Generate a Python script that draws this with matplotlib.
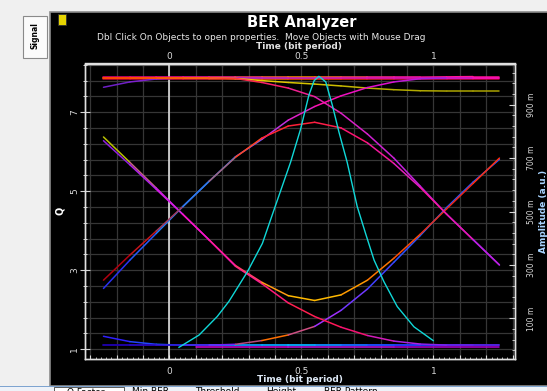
import numpy as np
import matplotlib.pyplot as plt
from matplotlib.collections import LineCollection
from matplotlib.colors import LinearSegmentedColormap
from matplotlib.patches import Rectangle
from matplotlib.ticker import FixedLocator, MultipleLocator, FuncFormatter

W, H = 547, 391

time_grid = [-0.25, -0.15, -0.05, 0.05, 0.15, 0.25, 0.35, 0.45,
             0.55, 0.65, 0.75, 0.85, 0.95, 1.05, 1.15, 1.25]

top_low = [0.997, 0.997, 0.997, 0.997, 0.997, 0.997, 0.997, 0.997,
           0.997, 0.997, 0.997, 0.997, 0.997, 0.997, 0.997, 0.997]
top_high = [1.003, 1.003, 1.003, 1.003, 1.003, 1.003, 1.003, 1.003,
            1.003, 1.003, 1.003, 1.003, 1.003, 1.004, 1.005, 1.005]
rise_tail = [0.965, 0.985, 0.996, 1.0, 1.0, 1.0, 1.0, 1.0,
             1.0, 1.0, 1.0, 1.0, 1.0, 1.0, 1.0, 1.0]
yellow_top = [1.0, 1.0, 1.0, 1.0, 1.0, 0.998, 0.99, 0.983,
              0.977, 0.97, 0.962, 0.956, 0.952, 0.951, 0.951, 0.951]
rise_full = [0.212, 0.318, 0.418, 0.518, 0.613, 0.705, 0.77, 0.842,
             0.893, 0.933, 0.964, 0.985, 0.997, 1.0, 1.0, 1.0]
dome = [0.243, 0.337, 0.427, 0.518, 0.613, 0.703, 0.775, 0.82,
        0.834, 0.813, 0.757, 0.68, 0.59, 0.49, 0.395, 0.3]
late_fall = [1.0, 1.0, 1.0, 1.0, 1.0, 0.998, 0.983, 0.962,
             0.93, 0.868, 0.79, 0.7, 0.595, 0.49, 0.395, 0.3]
fall_full = [0.779, 0.684, 0.588, 0.49, 0.394, 0.295, 0.23, 0.158,
             0.107, 0.067, 0.036, 0.015, 0.004, 0.0, 0.0, 0.0]
cup = [0.765, 0.675, 0.583, 0.49, 0.394, 0.298, 0.235, 0.185,
       0.167, 0.188, 0.243, 0.325, 0.415, 0.51, 0.605, 0.7]
late_rise = [0.0, 0.0, 0.0, 0.0, 0.0, 0.003, 0.017, 0.038,
             0.07, 0.13, 0.21, 0.31, 0.41, 0.515, 0.61, 0.695]
fall_tail = [0.033, 0.013, 0.003, 0.0, 0.0, 0.0, 0.0, 0.0,
             0.0, 0.0, 0.0, 0.0, 0.0, 0.0, 0.0, 0.0]
bottom_flat = [0.0, 0.0, 0.0, 0.0, 0.0, 0.0, 0.0, 0.0,
               0.0, 0.0, 0.0, 0.0, 0.0, 0.0, 0.0, 0.0]
bottom_low_time = [0.1, 0.45, 0.85, 1.25]
bottom_low = [-0.006, -0.006, -0.006, -0.006]

# Q factor versus sampling time (left axis)
q_time = [0.036, 0.112, 0.181, 0.225, 0.295, 0.352, 0.396, 0.459, 0.497,
          0.528, 0.548, 0.566, 0.592, 0.617, 0.642, 0.673, 0.711, 0.743,
          0.775, 0.8125, 0.863, 0.926, 0.999]
q_value = [1.05, 1.36, 1.83, 2.21, 2.96, 3.68, 4.53, 5.74, 6.58,
           7.43, 7.8, 7.91, 7.77, 7.18, 6.5, 5.74, 4.62, 3.93,
           3.26, 2.71, 2.08, 1.57, 1.22]

q_ticks = [1, 3, 5, 7]
amp_ticks = [0.1, 0.3, 0.5, 0.7, 0.9]
time_labels = [0, 0.5, 1]
tab_names = ["Q Factor", "Min BER", "Threshold", "Height", "BER Pattern"]
tab_x = [86, 150, 217, 281, 351]


def fpos(x, y):
    return x / W, 1 - y / H


def trace(axis, t, v, colors, lw=1.1, z=3):
    pts = np.column_stack([t, v])
    segs = np.stack([pts[:-1], pts[1:]], axis=1)
    cmap = LinearSegmentedColormap.from_list("tr", colors)
    lc = LineCollection(segs, colors=cmap(np.linspace(0, 1, len(segs))),
                        linewidths=lw, zorder=z, capstyle="round")
    axis.add_collection(lc)


def box(x, y, w, h, **kw):
    # rectangle in pixel coords (top-left corner), behind the axes
    fig.add_artist(Rectangle(fpos(x, y + h), w / W, h / H, transform=fig.transFigure,
                             zorder=-5, **kw))


fig = plt.figure(figsize=(W / 100, H / 100), dpi=100)
fig.patch.set_facecolor("#f0f0f0")

# black instrument panel
box(50, 12, 500, 374, facecolor="black", edgecolor="#8c8c8c", linewidth=1.2)
# "Signal" side tab
box(23, 16, 24, 42, facecolor="#fbfbfb", edgecolor="#8a8a8a", linewidth=0.8)
fig.text(*fpos(35, 36), "Signal", rotation=90, ha="center", va="center",
         fontsize=5.5, weight="bold", color="black")
# small yellow icon
box(58, 14, 8, 11, facecolor="#e6d400", edgecolor="#303030", linewidth=0.6)

# bottom tab strip
box(0, 386, W, 5.5, facecolor="#eef2f8", edgecolor="none")
box(0, 386, W, 1.2, facecolor="#7ea4d0", edgecolor="none")
box(54, 387, 70, 4.5, facecolor="white", edgecolor="#404040", linewidth=0.6)
for name, x in zip(tab_names, tab_x):
    fig.text(*fpos(x, 387.5), name, ha="center", va="top", fontsize=6.5, color="black")

fig.text(*fpos(302, 22), "BER Analyzer", ha="center", va="center",
         fontsize=10.5, weight="bold", color="white")
fig.text(*fpos(261, 37), "Dbl Click On Objects to open properties.  Move Objects with Mouse Drag",
         ha="center", va="center", fontsize=6.5, color="#e8e8e8")
fig.text(*fpos(299, 46.5), "Time (bit period)", ha="center", va="center",
         fontsize=6.5, weight="bold", color="#e0e0e0")
fig.text(*fpos(300, 380), "Time (bit period)", ha="center", va="center",
         fontsize=6.5, weight="bold", color="#dde8f5")
fig.text(*fpos(60, 211), "Q", rotation=90, ha="center", va="center",
         fontsize=7, weight="bold", color="white")
fig.text(*fpos(543, 211), "Amplitude (a.u.)", rotation=90, ha="center", va="center",
         fontsize=6.5, weight="bold", color="#a8d4ff")

# plot area
x0, x1, y0, y1 = 85, 515, 63.5, 359
ax = fig.add_axes([x0 / W, 1 - y1 / H, (x1 - x0) / W, (y1 - y0) / H])
ax.set_facecolor("black")
ax.set_xlim(-0.32, 1.309)
ax.set_ylim(0.754, 8.235)

ax.xaxis.set_major_locator(FixedLocator(np.round(np.arange(-0.3, 1.31, 0.1), 2)))
ax.xaxis.set_minor_locator(MultipleLocator(0.02))
ax.xaxis.set_major_formatter(FuncFormatter(
    lambda v, p: (f"{v:g}" if any(abs(v - s) < 1e-6 for s in time_labels) else "")))
ax.yaxis.set_major_locator(FixedLocator(q_ticks))
ax.yaxis.set_minor_locator(FixedLocator(np.arange(0.6, 8.3, 0.4)))
ax.grid(which="major", axis="x", color="#363636", linewidth=0.9)
ax.grid(which="both", axis="y", color="#363636", linewidth=0.9)
ax.axvline(0, color="#f0f0f0", linewidth=1.1, zorder=2)

ax.tick_params(axis="x", which="major", direction="in", length=3, width=0.8,
               colors="#d8d8d8", labelsize=6.5, pad=5.5)
ax.tick_params(axis="x", which="minor", direction="in", length=1.2, width=0.6, colors="#d8d8d8")
ax.tick_params(axis="y", which="major", direction="inout", length=7, width=0.8,
               colors="#d8d8d8", labelsize=6.5, pad=0.5, labelrotation=90)
ax.tick_params(axis="y", which="minor", direction="inout", length=3.5, width=0.7, colors="#d8d8d8")
for lab in ax.get_yticklabels():
    lab.set_va("center")

top = ax.secondary_xaxis("top")
top.xaxis.set_major_locator(FixedLocator(np.round(np.arange(-0.3, 1.31, 0.1), 2)))
top.xaxis.set_minor_locator(MultipleLocator(0.02))
top.xaxis.set_major_formatter(ax.xaxis.get_major_formatter())
top.tick_params(axis="x", which="major", direction="in", length=3, width=0.8,
                colors="#d8d8d8", labelsize=6.5, pad=1.5)
top.tick_params(axis="x", which="minor", direction="in", length=1.2, width=0.6, colors="#d8d8d8")

ax2 = ax.twinx()
ax2.set_ylim(-0.052, 1.054)
ax2.yaxis.set_major_locator(FixedLocator(amp_ticks))
ax2.yaxis.set_minor_locator(FixedLocator(np.arange(-0.02, 1.05, 0.04)))
ax2.yaxis.set_major_formatter(FuncFormatter(lambda v, p: f"{int(round(v * 1000))} m"))
ax2.tick_params(axis="y", which="major", direction="in", length=4, width=0.8,
                colors="#d8d8d8", labelsize=5.5, pad=9, labelrotation=90)
ax2.tick_params(axis="y", which="minor", direction="in", length=2, width=0.6, colors="#d8d8d8")
for lab in ax2.get_yticklabels():
    lab.set_va("center")

for a in (ax, ax2, top):
    for s in a.spines.values():
        s.set_color("#e0e0e0")
        s.set_linewidth(1.0)

# eye traces
trace(ax2, time_grid, bottom_flat, ["#1a0090", "#2000a0", "#2020d0", "#2030ff", "#2020c0"])
trace(ax2, bottom_low_time, bottom_low, ["#d000d0", "#c010e0", "#b000d0"])
trace(ax2, time_grid, fall_tail, ["#3020ff", "#00a0ff", "#00c8ff", "#2040ff", "#2030e0"])
trace(ax2, time_grid, late_rise, ["#2000b0", "#3010d0", "#7020ff", "#ff7000",
                                  "#a030ff", "#4040ff", "#1e60ff", "#2050ff"])
trace(ax2, time_grid, fall_full, ["#b8c000", "#cc20e0", "#e020d0", "#ff1493", "#ff2050",
                                  "#ff1060", "#c020e0", "#8020f0", "#6020e0"])
trace(ax2, time_grid, cup, ["#9020e0", "#c020f0", "#ff10c0", "#ff2080", "#ffb000", "#ffc000",
                            "#ff9000", "#ff5000", "#e02020", "#ff3010"])
trace(ax2, time_grid, top_low, ["#cc0033", "#dd1040", "#ff6a00", "#ff3000", "#d0104a", "#cc0044"])
trace(ax2, time_grid, top_high, ["#e00080", "#ff10b0", "#ff9000", "#ff20a0", "#ff1493"])
trace(ax2, time_grid, rise_tail, ["#7020c8", "#b020e0", "#e010c0", "#e010c0"])
trace(ax2, time_grid, yellow_top, ["#ffb000", "#ffd000", "#d8c400", "#b4ac00", "#aaa200"])
trace(ax2, time_grid, late_fall, ["#ff3000", "#ff5000", "#ff2060", "#e020c0", "#c020e0", "#9020f0"])
trace(ax2, time_grid, rise_full, ["#2a30f0", "#1e80ff", "#2878ff", "#c030e0", "#ff10b0",
                                  "#e010d0", "#a020e0", "#ff10b0"])
trace(ax2, time_grid, dome, ["#b00010", "#d02020", "#2080ff", "#ff5020", "#ff2030", "#ff2040",
                             "#ff1080", "#e020c0", "#ff1493", "#c020e0"])

# Q factor curve, drawn in Q coordinates on top of the traces
ax2.plot(q_time, q_value, color="#10d8d8", linewidth=1.0, zorder=5, transform=ax.transData)

fig.savefig("out.png", dpi=100, facecolor=fig.get_facecolor())
